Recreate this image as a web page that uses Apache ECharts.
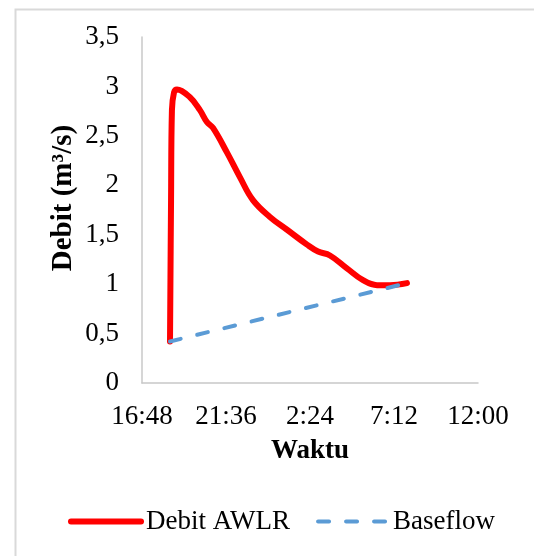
<!DOCTYPE html>
<html>
<head>
<meta charset="utf-8">
<script src="https://cdn.jsdelivr.net/npm/echarts@6/dist/echarts.min.js"></script>
<style>
html,body{margin:0;padding:0;background:#fff;}
#chart{width:534px;height:556px;}
</style>
</head>
<body>
<div id="chart"></div>
<script>
// Time in hours since midnight of the first day (e.g. 26.4 = 02:24 next day)
var awlrTime = [18.40, 18.46, 18.51, 18.63, 18.80, 19.54, 20.11, 20.51, 20.86, 21.66, 22.40, 23.14, 24.11, 25.09, 26.23, 26.86, 27.54, 28.51, 29.43, 30.23, 30.97, 31.94];
var awlrFlow = [0.42, 1.85, 2.76, 2.94, 2.97, 2.89, 2.76, 2.64, 2.58, 2.33, 2.08, 1.85, 1.68, 1.55, 1.40, 1.33, 1.29, 1.16, 1.04, 0.99, 0.99, 1.01];
var baseTime = [18.40, 31.94];
var baseFlow = [0.42, 1.01];
var xTicks = ['16:48', '21:36', '2:24', '7:12', '12:00'];
var yTicks = ['0', '0,5', '1', '1,5', '2', '2,5', '3', '3,5'];

var FONT = "'Liberation Serif', 'Times New Roman', serif";
function zip(a, b) { return a.map(function (v, i) { return [v, b[i]]; }); }

var chart = echarts.init(document.getElementById('chart'), null, {renderer: 'canvas'});
chart.setOption({
  backgroundColor: '#ffffff',
  animation: false,
  graphic: [
    {type: 'rect', left: 13, top: 7, shape: {width: 700, height: 700},
     style: {fill: null, stroke: '#d9d9d9', lineWidth: 2}, silent: true, z: -1},
    {type: 'text', x: 64, y: 198, rotation: Math.PI / 2,
     style: {text: 'Debit (m³/s)', font: "bold 29px 'Liberation Serif', 'Times New Roman', serif",
             fill: '#000', align: 'center', verticalAlign: 'middle'}, z: 10}
  ],
  grid: {left: 142, top: 37, right: 56, bottom: 173, containLabel: false},
  legend: {
    left: 68, top: 508, padding: 0, itemWidth: 70, itemHeight: 6, itemGap: 26,
    itemStyle: {opacity: 0},
    textStyle: {fontFamily: FONT, fontSize: 27, color: '#000', padding: [0, 0, 0, 0]},
    data: [
      {name: 'Debit AWLR', lineStyle: {width: 6, color: '#ff0000', cap: 'round'}},
      {name: 'Baseflow', lineStyle: {width: 4, color: '#5b9bd5', type: [11, 17], cap: 'round'}}
    ]
  },
  xAxis: {
    type: 'value', min: 16.8, max: 36, interval: 4.8,
    name: 'Waktu', nameLocation: 'middle', nameGap: 55,
    nameTextStyle: {fontFamily: FONT, fontSize: 27, fontWeight: 'bold', color: '#000'},
    axisLine: {show: true, lineStyle: {color: '#c8c8c8', width: 1.5}},
    axisTick: {show: false},
    splitLine: {show: false},
    axisLabel: {
      fontFamily: FONT, fontSize: 27, color: '#000', margin: 20,
      formatter: function (v) { return xTicks[Math.round((v - 16.8) / 4.8)]; }
    }
  },
  yAxis: {
    type: 'value', min: 0, max: 3.5, interval: 0.5,
    axisLine: {show: true, lineStyle: {color: '#c8c8c8', width: 1.5}},
    axisTick: {show: false},
    splitLine: {show: false},
    axisLabel: {
      fontFamily: FONT, fontSize: 27, color: '#000', margin: 23,
      formatter: function (v) { return yTicks[Math.round(v / 0.5)]; }
    }
  },
  series: [
    {
      name: 'Debit AWLR', type: 'line', data: zip(awlrTime, awlrFlow),
      showSymbol: false, symbol: 'none', smooth: 0.4,
      lineStyle: {color: '#ff0000', width: 6, cap: 'round', join: 'round'},
      itemStyle: {color: '#ff0000'}, z: 3
    },
    {
      name: 'Baseflow', type: 'line', data: zip(baseTime, baseFlow),
      showSymbol: false, symbol: 'none',
      lineStyle: {color: '#5b9bd5', width: 4, type: [11, 17], cap: 'round'},
      itemStyle: {color: '#5b9bd5'}, z: 4
    }
  ]
});
</script>
</body>
</html>
